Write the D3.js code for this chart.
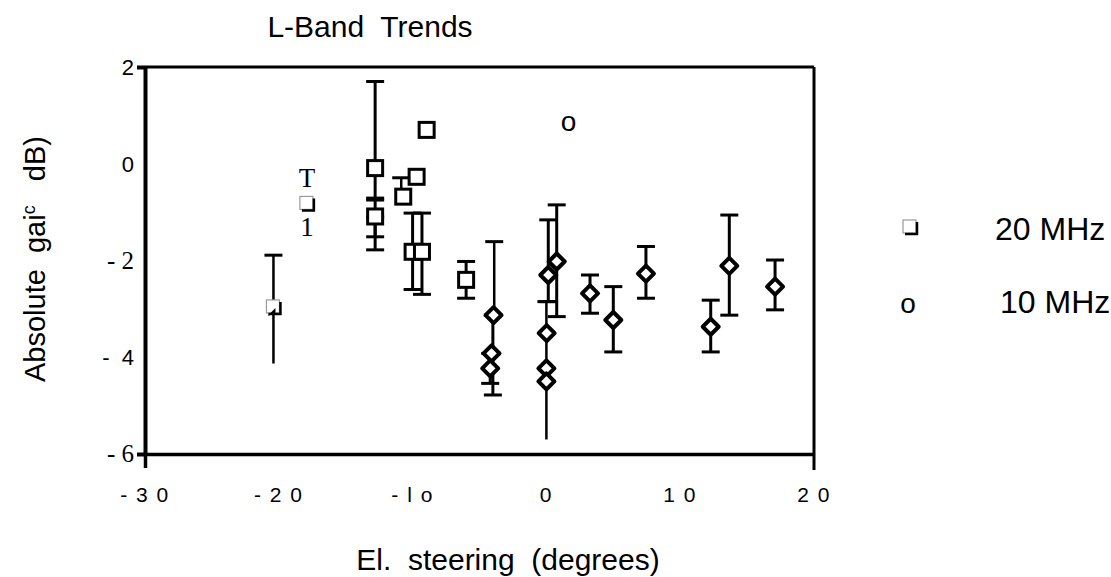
<!DOCTYPE html>
<html>
<head>
<meta charset="utf-8">
<script src="https://cdn.jsdelivr.net/npm/d3@7"></script>
<style>
  body { margin: 0; background: #fff; }
  text { font-family: "Liberation Sans", Arial, sans-serif; fill: #000; }
  .serif { font-family: "Liberation Serif", "Times New Roman", serif; }
</style>
</head>
<body>
<svg id="chart" width="1111" height="577"></svg>
<script>
// axis ticks and their (scanned) labels
var xTicks = [-30, -20, -10, 0, 10, 20];
var xTickText = ['- 3 0', '- 2 0', '- l o', '0', '1 0', '2 0'];
var yTicks = [2, 0, -2, -4, -6];
var yTickText = ['2', '0', '- 2', '-  4', '- 6'];
var yTickSerif = [false, false, true, false, true];

// 20 MHz squares
var sqX = [-12.8, -12.8, -8.95, -9.7, -10.7, -10.0, -9.3, -6.0];
var sqY = [-0.09, -1.09, 0.70, -0.27, -0.68, -1.82, -1.82, -2.40];

// squares drawn with a drop shadow (legend style)
var shSqX = [-17.9, -20.4];
var shSqY = [-0.82, -2.96];

// diamonds
var dmX = [-3.95, -4.1, -4.2, 0.77, 0.14, 0.02, 0.0, 0.0, 3.26, 5.0, 7.44, 12.28, 13.67, 17.09];
var dmY = [-3.13, -3.92, -4.23, -2.02, -2.30, -3.50, -4.23, -4.50, -2.68, -3.23, -2.27, -3.37, -2.11, -2.54];

// 10 MHz point
var tenX = [1.65];
var tenY = [0.84];

// error bars
var barX =     [-20.4, -12.8, -12.8, -12.8, -10.85, -10.0, -9.3, -6.0, -3.9, -4.0, -4.2, 0.77, 0.14, 0.0, 3.26, 5.0, 7.44, 12.28, 13.67, 17.09];
var barLo =    [-4.13, -0.71, -1.51, -1.78, -0.68, -2.60, -2.70, -2.78, -3.13, -4.78, -4.54, -3.16, -2.85, -5.7, -3.09, -3.89, -2.78, -3.89, -3.13, -3.02];
var barHi =    [-1.89, 1.70, -0.75, -1.10, -0.29, -1.02, -1.02, -2.02, -1.61, -3.13, -3.92, -0.85, -1.16, -2.85, -2.30, -2.54, -1.71, -2.82, -1.06, -1.99];
var barLoCap = [false, true, true, true, false, true, true, true, false, true, true, true, true, false, true, true, true, true, true, true];

var legendText = ['20 MHz', '10 MHz'];

var svg = d3.select('#chart');

var x = d3.scaleLinear().domain([-30, 20]).range([145, 814]);
var y = d3.scaleLinear().domain([-6, 2]).range([454, 67]);

svg.append('rect').attr('width', 1111).attr('height', 577).attr('fill', '#fff');

// frame
svg.append('line')
  .attr('x1', x(-30)).attr('x2', x(20))
  .attr('y1', y(2)).attr('y2', y(2))
  .attr('stroke', '#000').attr('stroke-width', 3);
svg.append('line')
  .attr('x1', x(20)).attr('x2', x(20))
  .attr('y1', y(2)).attr('y2', y(-6) + 16)
  .attr('stroke', '#000').attr('stroke-width', 3);

var yAxis = svg.append('g')
  .attr('transform', 'translate(' + x(-30) + ',0)')
  .call(d3.axisLeft(y).tickValues([2, -6]).tickSize(8).tickSizeOuter(0).tickFormat(''));
yAxis.selectAll('path, line').attr('stroke', '#000').attr('stroke-width', 4);

var xAxis = svg.append('g')
  .attr('transform', 'translate(0,' + y(-6) + ')')
  .call(d3.axisBottom(x).tickValues([-30]).tickSize(14).tickSizeOuter(0).tickFormat(''));
xAxis.selectAll('path, line').attr('stroke', '#000').attr('stroke-width', 3.5);

// tick labels
svg.selectAll('.xlab')
  .data(xTicks)
  .enter()
  .append('text')
  .attr('class', 'xlab')
  .attr('x', function(d) { return x(d); })
  .attr('y', 502)
  .attr('text-anchor', 'middle')
  .attr('font-size', 21)
  .attr('letter-spacing', 1.5)
  .attr('xml:space', 'preserve')
  .text(function(d, i) { return xTickText[i]; });

svg.selectAll('.ylab')
  .data(yTicks)
  .enter()
  .append('text')
  .attr('class', function(d, i) { return yTickSerif[i] ? 'ylab serif' : 'ylab'; })
  .attr('x', 134)
  .attr('y', function(d) { return y(d) + 8; })
  .attr('text-anchor', 'end')
  .attr('font-size', function(d, i) { return yTickSerif[i] ? 25 : 22; })
  .attr('xml:space', 'preserve')
  .text(function(d, i) { return yTickText[i]; });

// titles
svg.append('text')
  .attr('x', 370).attr('y', 37)
  .attr('text-anchor', 'middle')
  .attr('font-size', 30)
  .attr('xml:space', 'preserve')
  .text('L-Band  Trends');

svg.append('text')
  .attr('x', 508).attr('y', 570)
  .attr('text-anchor', 'middle')
  .attr('font-size', 30)
  .attr('xml:space', 'preserve')
  .text('El.  steering  (degrees)');

var ylabel = svg.append('text')
  .attr('transform', 'translate(45,259) rotate(-90)')
  .attr('text-anchor', 'middle')
  .attr('font-size', 29)
  .attr('xml:space', 'preserve');
ylabel.append('tspan').text('Absolute  gai');
ylabel.append('tspan').attr('font-size', 18).attr('dy', -10).text('c');
ylabel.append('tspan').attr('dy', 10).text('   dB)');

// error bars
var bars = svg.append('g').attr('stroke', '#000').attr('fill', 'none');
barX.forEach(function(bx, i) {
  var cx = x(bx);
  bars.append('line')
    .attr('x1', cx).attr('x2', cx)
    .attr('y1', y(barLo[i])).attr('y2', y(barHi[i]))
    .attr('stroke-width', barLoCap[i] ? 3 : 2.5);
  bars.append('line')
    .attr('x1', cx - 9).attr('x2', cx + 9)
    .attr('y1', y(barHi[i])).attr('y2', y(barHi[i]))
    .attr('stroke-width', 3);
  if (barLoCap[i]) {
    bars.append('line')
      .attr('x1', cx - 9).attr('x2', cx + 9)
      .attr('y1', y(barLo[i])).attr('y2', y(barLo[i]))
      .attr('stroke-width', 3);
  }
});

// squares
svg.selectAll('.sq')
  .data(sqX)
  .enter()
  .append('rect')
  .attr('class', 'sq')
  .attr('x', function(d) { return x(d) - 7.5; })
  .attr('y', function(d, i) { return y(sqY[i]) - 7.5; })
  .attr('width', 15).attr('height', 15)
  .attr('fill', '#fff').attr('stroke', '#000').attr('stroke-width', 3);

// shadowed squares
var drawShadowSquare = function(g, cx, cy) {
  g.append('rect')
    .attr('x', cx - 7).attr('y', cy - 7)
    .attr('width', 13).attr('height', 13)
    .attr('fill', '#fff').attr('stroke', '#999').attr('stroke-width', 1.2);
  g.append('path')
    .attr('d', 'M' + (cx + 7) + ',' + (cy - 5) + 'V' + (cy + 7) + 'H' + (cx - 5))
    .attr('fill', 'none').attr('stroke', '#000').attr('stroke-width', 2.5);
};

var shadowG = svg.append('g');
shSqX.forEach(function(sx, i) {
  drawShadowSquare(shadowG, x(sx), y(shSqY[i]));
});

// scanned error bar glyphs around the -18 point
svg.append('text').attr('class', 'serif')
  .attr('x', x(shSqX[0])).attr('y', y(shSqY[0]) - 16)
  .attr('text-anchor', 'middle').attr('font-size', 27).text('T');
svg.append('text').attr('class', 'serif')
  .attr('x', x(shSqX[0])).attr('y', y(shSqY[0]) + 33)
  .attr('text-anchor', 'middle').attr('font-size', 27).text('1');

// arrow tip on the -20 point
svg.append('path')
  .attr('d', 'M' + (x(shSqX[1]) - 6) + ',' + (y(shSqY[1]) + 9) +
    'L' + (x(shSqX[1]) + 2) + ',' + (y(shSqY[1]) + 1) +
    'L' + (x(shSqX[1]) + 2) + ',' + (y(shSqY[1]) + 6) + 'Z')
  .attr('fill', '#000');

// diamonds
svg.selectAll('.dm')
  .data(dmX)
  .enter()
  .append('path')
  .attr('class', 'dm')
  .attr('d', function(d, i) {
    var cx = x(d), cy = y(dmY[i]), r = 8;
    return 'M' + cx + ',' + (cy - r) + 'L' + (cx + r) + ',' + cy +
      'L' + cx + ',' + (cy + r) + 'L' + (cx - r) + ',' + cy + 'Z';
  })
  .attr('fill', '#fff').attr('stroke', '#000').attr('stroke-width', 4)
  .attr('stroke-linejoin', 'round');

// 10 MHz
svg.selectAll('.ten')
  .data(tenX)
  .enter()
  .append('text')
  .attr('class', 'ten')
  .attr('x', function(d) { return x(d); })
  .attr('y', function(d, i) { return y(tenY[i]) + 8; })
  .attr('text-anchor', 'middle')
  .attr('font-size', 28)
  .text('o');

// legend
var legend = svg.append('g');
drawShadowSquare(legend, 910, 227);
legend.append('text').attr('x', 908).attr('y', 313)
  .attr('text-anchor', 'middle').attr('font-size', 28).text('o');
legend.append('text').attr('x', 995).attr('y', 240)
  .attr('font-size', 32).text(legendText[0]);
legend.append('text').attr('x', 1000).attr('y', 313)
  .attr('font-size', 32).text(legendText[1]);
</script>
</body>
</html>
